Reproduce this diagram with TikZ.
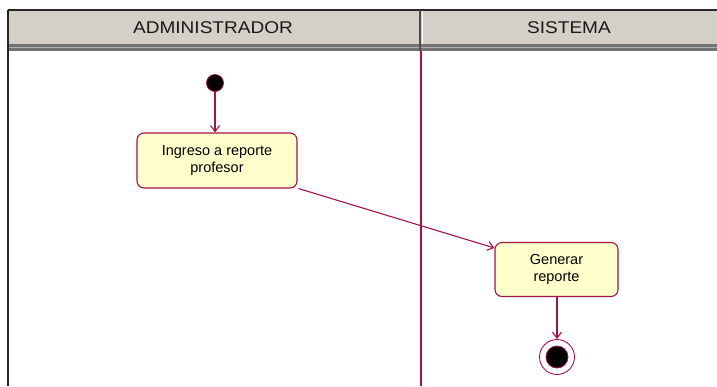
\documentclass[tikz,border=0pt]{standalone}
\usepackage{fontspec}
\setmainfont{Liberation Sans}
\newfontfamily\hdrfont[FakeStretch=1.12]{Liberation Sans}
\usetikzlibrary{arrows.meta}
\definecolor{uml}{RGB}{160,20,70}
\definecolor{boxfill}{RGB}{255,255,204}
\definecolor{hdr}{RGB}{212,208,200}
\newcommand{\boxtxt}[2]{\raisebox{#1}{\begin{tabular}{@{}c@{}}#2\end{tabular}}}
\tikzset{
  act/.style={draw=uml, line width=1.1pt, fill=boxfill, rounded corners=7pt, align=center, font=\fontsize{14.5}{19}\selectfont, inner sep=0pt},
  flow/.style={draw=uml, line width=1.1pt, -{Straight Barb[length=6pt,width=9pt]}},
  lanetxt/.style={font=\hdrfont\fontsize{17}{19}\selectfont, text=black!90}
}
\begin{document}
\begin{tikzpicture}[x=1pt,y=-1pt]
\useasboundingbox (0,0) rectangle (717,386);
% header
\fill[hdr] (8,10) rectangle (717,44);
\fill[black!55] (8,44) rectangle (717,51);
\draw[black!30, line width=1pt] (8,47.5) -- (717,47.5);
\draw[black!85, line width=1.5pt] (8,10) -- (717,10);
\draw[black!85, line width=1.5pt] (8,10) -- (8,386);
\draw[black!70, line width=1.5pt] (420,10) -- (420,51);
\draw[white, line width=1pt] (422.5,11) -- (422.5,44);
\draw[uml, line width=1.2pt] (421,51) -- (421,386);
\node[lanetxt] (h1) at (213,27.5) {ADMINISTRADOR};
\node[lanetxt] (h2) at (569,27.5) {SISTEMA};
% nodes
\node[circle, fill=black, draw=uml, line width=0.8pt, minimum size=17pt, inner sep=0pt] (ini) at (215,83) {};
\node[act, minimum width=160pt, minimum height=55pt] (a1) at (217,160.5) {\boxtxt{2pt}{Ingreso a reporte\\[-2pt]profesor}};
\node[act, minimum width=123pt, minimum height=54pt] (a2) at (556.5,269.5) {\boxtxt{5pt}{Generar\\[-2pt]reporte}};
\node[circle, draw=uml, line width=0.9pt, fill=white, minimum size=35pt, inner sep=0pt] (fin) at (557,357) {};
\node[circle, fill=black, draw=uml, line width=0.8pt, minimum size=22pt, inner sep=0pt] (finc) at (557,357) {};
% flows
\draw[flow] (ini) -- (ini |- a1.north);
\draw[flow] (a1.south east) ++(1,0) coordinate (s1) (s1) -- (a2.west |- 0,248);
\draw[flow] (a2.south -| fin) -- (fin.north);
\end{tikzpicture}
\end{document}
